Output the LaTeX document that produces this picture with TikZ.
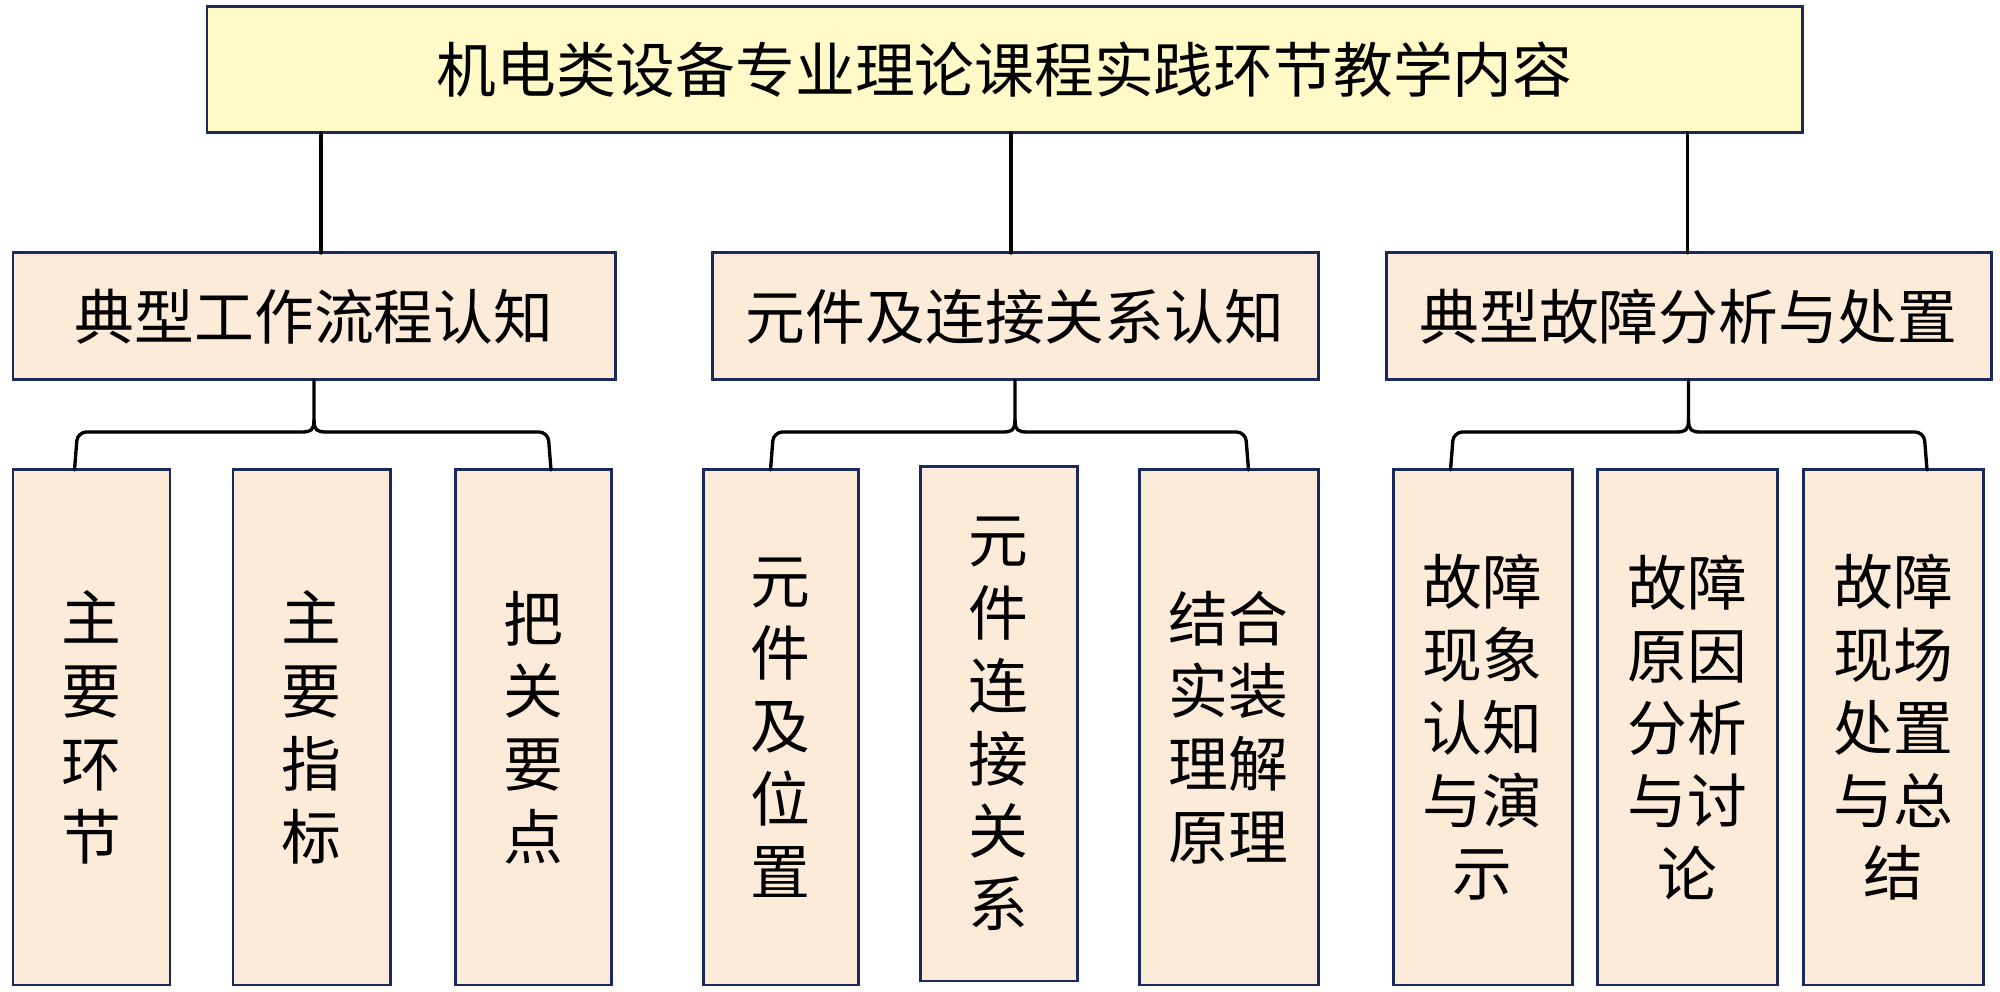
\documentclass[tikz,border=0pt]{standalone}
\usepackage{fontspec}
\newfontfamily\cjk{Noto Sans CJK SC}
\usetikzlibrary{calc}
\definecolor{topfill}{HTML}{FFFAC8}
\definecolor{boxfill}{HTML}{FDEBD9}
\definecolor{bordercol}{HTML}{1B2A5C}
\tikzset{
  x=0.01cm, y=-0.01cm,
  basebox/.style={draw=bordercol, line width=0.85pt, inner sep=0pt, outer sep=0pt,
    font=\cjk\fontsize{17}{20.7}\selectfont, text=black, align=center},
  titlebox/.style={basebox, fill=topfill},
  midbox/.style={basebox, fill=boxfill},
  leafbox/.style={basebox, fill=boxfill},
  conn/.style={draw=black, line width=0.95pt, line cap=round, line join=round},
}
% #1 parent, #2 left child, #3 left offset, #4 right child, #5 right offset
\newcommand{\mybrace}[5]{%
  \draw[conn, rounded corners=0.09cm] ($(#2.north)+(#3,0)$) -- ++(3,-38) -- ($(#1.south)+(-12,52)$);
  \draw[conn] ($(#1.south)+(-12,52)$) .. controls +(9,0) and +(0,10) .. ($(#1.south)+(0,40)$) -- (#1.south);
  \draw[conn, rounded corners=0.09cm] ($(#4.north)+(#5,0)$) -- ++(-3,-38) -- ($(#1.south)+(12,52)$);
  \draw[conn] ($(#1.south)+(12,52)$) .. controls +(-9,0) and +(0,10) .. ($(#1.south)+(0,40)$);
}
\begin{document}
\begin{tikzpicture}
\useasboundingbox (0,0) rectangle (2000,992);
\fill[white] (0,0) rectangle (2000,992);

% top
\node[titlebox, minimum width=1595*0.01cm, minimum height=126*0.01cm] (top) at (1004.5,70)
  {机电类设备专业理论课程实践环节教学内容};

% level 2
\node[midbox, minimum width=602*0.01cm, minimum height=127*0.01cm] (A) at (314,316.5) {典型工作流程认知};
\node[midbox, minimum width=606*0.01cm, minimum height=127*0.01cm] (B) at (1015,316.5) {元件及连接关系认知};
\node[midbox, minimum width=605*0.01cm, minimum height=127*0.01cm] (C) at (1688.5,316.5) {典型故障分析与处置};

% level 3
\node[leafbox, minimum width=157*0.01cm, minimum height=515*0.01cm] (A1) at (91.5,727.5) {主\\要\\环\\节};
\node[leafbox, minimum width=157*0.01cm, minimum height=515*0.01cm] (A2) at (311.5,727.5) {主\\要\\指\\标};
\node[leafbox, minimum width=156*0.01cm, minimum height=515*0.01cm] (A3) at (533,727.5) {把\\关\\要\\点};

\node[leafbox, minimum width=155*0.01cm, minimum height=515*0.01cm] (B1) at (780.5,727.5) {元\\件\\及\\位\\置};
\node[leafbox, minimum width=157*0.01cm, minimum height=514*0.01cm] (B2) at (998.5,724) {元\\件\\连\\接\\关\\系};
\node[leafbox, minimum width=179*0.01cm, minimum height=515*0.01cm] (B3) at (1228.5,727.5) {结合\\实装\\理解\\原理};

\node[leafbox, minimum width=179*0.01cm, minimum height=515*0.01cm] (C1) at (1482.5,727.5) {故障\\现象\\认知\\与演\\示};
\node[leafbox, minimum width=180*0.01cm, minimum height=515*0.01cm] (C2) at (1687,727.5) {故障\\原因\\分析\\与讨\\论};
\node[leafbox, minimum width=180*0.01cm, minimum height=515*0.01cm] (C3) at (1893,727.5) {故障\\现场\\处置\\与总\\结};

% connectors top -> level 2
\coordinate (a0) at ($(A.north)+(7,0)$);
\coordinate (b0) at ($(B.north)+(-4,0)$);
\coordinate (c0) at ($(C.north)+(-1,0)$);
\draw[conn] (a0 |- top.south) -- (a0);
\draw[conn] (b0 |- top.south) -- (b0);
\draw[conn] (c0 |- top.south) -- (c0);

% brackets
\mybrace{A}{A1}{-17}{A3}{18}
\mybrace{B}{B1}{-10}{B3}{20}
\mybrace{C}{C1}{-32}{C3}{34}
\end{tikzpicture}
\end{document}
